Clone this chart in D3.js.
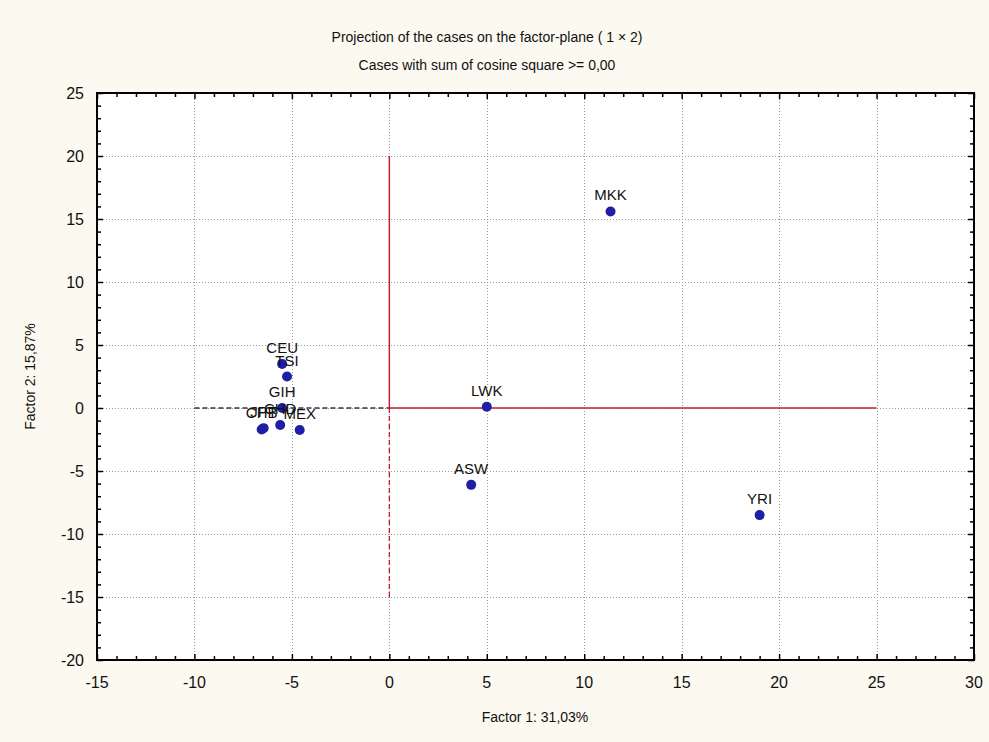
<!DOCTYPE html>
<html>
<head>
<meta charset="utf-8">
<script src="https://cdn.jsdelivr.net/npm/d3@7"></script>
<style>
  html, body { margin: 0; padding: 0; background: #fcf9f1; }
  svg { display: block; }
  text { font-family: "Liberation Sans", Arial, sans-serif; fill: #111; }
</style>
</head>
<body>
<svg id="chart" width="989" height="742"></svg>
<script>
// Case codes and their coordinates on the first two factors
const cases = ["MKK", "LWK", "ASW", "YRI", "CEU", "TSI", "GIH", "CHB", "JPT", "CHD", "MEX"];
const factor1 = [11.35, 5.0, 4.2, 19.0, -5.5, -5.25, -5.5, -6.55, -6.45, -5.6, -4.6];
const factor2 = [15.6, 0.1, -6.1, -8.5, 3.5, 2.5, 0.0, -1.7, -1.6, -1.35, -1.75];

const xTicks = [-15, -10, -5, 0, 5, 10, 15, 20, 25, 30];
const yTicks = [-20, -15, -10, -5, 0, 5, 10, 15, 20, 25];

const titleLines = [
  "Projection of the cases on the factor-plane (  1 \u00d7   2)",
  "Cases with sum of cosine square >=  0,00"
];
const xLabel = "Factor 1: 31,03%";
const yLabel = "Factor 2: 15,87%";

const svg = d3.select("#chart");
const plotL = 97, plotR = 974, plotT = 93, plotB = 660;

const x = d3.scaleLinear().domain([-15, 30]).range([plotL, plotR]);
const y = d3.scaleLinear().domain([-20, 25]).range([plotB, plotT]);

// plot area
svg.append("rect")
  .attr("x", plotL).attr("y", plotT)
  .attr("width", plotR - plotL).attr("height", plotB - plotT)
  .attr("fill", "#ffffff");

// dotted grid at the major ticks
const grid = svg.append("g").attr("stroke", "#9a9a9a").attr("stroke-width", 1)
  .attr("stroke-dasharray", "1,2");
grid.selectAll(".gx").data(xTicks.slice(1, -1)).join("line")
  .attr("x1", d => Math.round(x(d)) + 0.5).attr("x2", d => Math.round(x(d)) + 0.5)
  .attr("y1", plotT).attr("y2", plotB);
grid.selectAll(".gy").data(yTicks.slice(1, -1)).join("line")
  .attr("y1", d => Math.round(y(d)) + 0.5).attr("y2", d => Math.round(y(d)) + 0.5)
  .attr("x1", plotL).attr("x2", plotR);

// reference cross through the origin
const cross = svg.append("g");
cross.append("line")
  .attr("x1", x(0)).attr("x2", x(25)).attr("y1", y(0)).attr("y2", y(0))
  .attr("stroke", "#c41e30").attr("stroke-width", 1.5);
cross.append("line")
  .attr("x1", x(-10)).attr("x2", x(0)).attr("y1", y(0)).attr("y2", y(0))
  .attr("stroke", "#3e2a4a").attr("stroke-width", 1.3).attr("stroke-dasharray", "5,3");
cross.append("line")
  .attr("x1", x(0)).attr("x2", x(0)).attr("y1", y(20)).attr("y2", y(0))
  .attr("stroke", "#c41e30").attr("stroke-width", 1.5);
cross.append("line")
  .attr("x1", x(0)).attr("x2", x(0)).attr("y1", y(0)).attr("y2", y(-15))
  .attr("stroke", "#c41e30").attr("stroke-width", 1.3).attr("stroke-dasharray", "5,3");

// axes on all four sides, ticks pointing inward
const minorX = d3.range(-15, 31, 1);
const minorY = d3.range(-20, 26, 1);
function tickLen(v) { return v % 5 === 0 ? 6 : 4; }

const axisG = svg.append("g");
axisG.append("g").attr("transform", `translate(0,${plotB})`)
  .call(d3.axisBottom(x).tickValues(minorX).tickSize(0).tickFormat(""))
  .call(g => g.select(".domain").remove())
  .call(g => g.selectAll(".tick line").attr("y2", d => -tickLen(d)).attr("stroke", "#000").attr("stroke-width", 1.5));
axisG.append("g").attr("transform", `translate(0,${plotT})`)
  .call(d3.axisTop(x).tickValues(minorX).tickSize(0).tickFormat(""))
  .call(g => g.select(".domain").remove())
  .call(g => g.selectAll(".tick line").attr("y2", d => tickLen(d)).attr("stroke", "#000").attr("stroke-width", 1.5));
axisG.append("g").attr("transform", `translate(${plotL},0)`)
  .call(d3.axisLeft(y).tickValues(minorY).tickSize(0).tickFormat(""))
  .call(g => g.select(".domain").remove())
  .call(g => g.selectAll(".tick line").attr("x2", d => tickLen(d)).attr("stroke", "#000").attr("stroke-width", 1.5));
axisG.append("g").attr("transform", `translate(${plotR},0)`)
  .call(d3.axisRight(y).tickValues(minorY).tickSize(0).tickFormat(""))
  .call(g => g.select(".domain").remove())
  .call(g => g.selectAll(".tick line").attr("x2", d => -tickLen(d)).attr("stroke", "#000").attr("stroke-width", 1.5));

// frame
svg.append("rect")
  .attr("x", plotL).attr("y", plotT)
  .attr("width", plotR - plotL).attr("height", plotB - plotT)
  .attr("fill", "none").attr("stroke", "#000").attr("stroke-width", 2);

// tick labels
svg.append("g").selectAll("text").data(xTicks).join("text")
  .attr("x", d => x(d)).attr("y", plotB + 28)
  .attr("text-anchor", "middle").attr("font-size", 16)
  .text(d => d);
svg.append("g").selectAll("text").data(yTicks).join("text")
  .attr("x", plotL - 13).attr("y", d => y(d) + 6)
  .attr("text-anchor", "end").attr("font-size", 16)
  .text(d => d);

// points
const pts = cases.map((c, i) => ({ name: c, f1: factor1[i], f2: factor2[i] }));
svg.append("g").selectAll("circle").data(pts).join("circle")
  .attr("cx", d => x(d.f1)).attr("cy", d => y(d.f2)).attr("r", 5)
  .attr("fill", "#1d1fa6");

// case labels above each point
svg.append("g").selectAll("text").data(pts).join("text")
  .attr("x", d => x(d.f1)).attr("y", d => y(d.f2) - 11)
  .attr("text-anchor", "middle").attr("font-size", 15)
  .text(d => d.name);

// titles
svg.append("g").selectAll("text").data(titleLines).join("text")
  .attr("x", 487).attr("y", (d, i) => 42 + i * 28)
  .attr("text-anchor", "middle").attr("font-size", 14)
  .text(d => d);

svg.append("text")
  .attr("x", 535).attr("y", 722)
  .attr("text-anchor", "middle").attr("font-size", 14)
  .text(xLabel);
svg.append("text")
  .attr("transform", `translate(35,${(plotT + plotB) / 2}) rotate(-90)`)
  .attr("text-anchor", "middle").attr("font-size", 14)
  .text(yLabel);
</script>
</body>
</html>
